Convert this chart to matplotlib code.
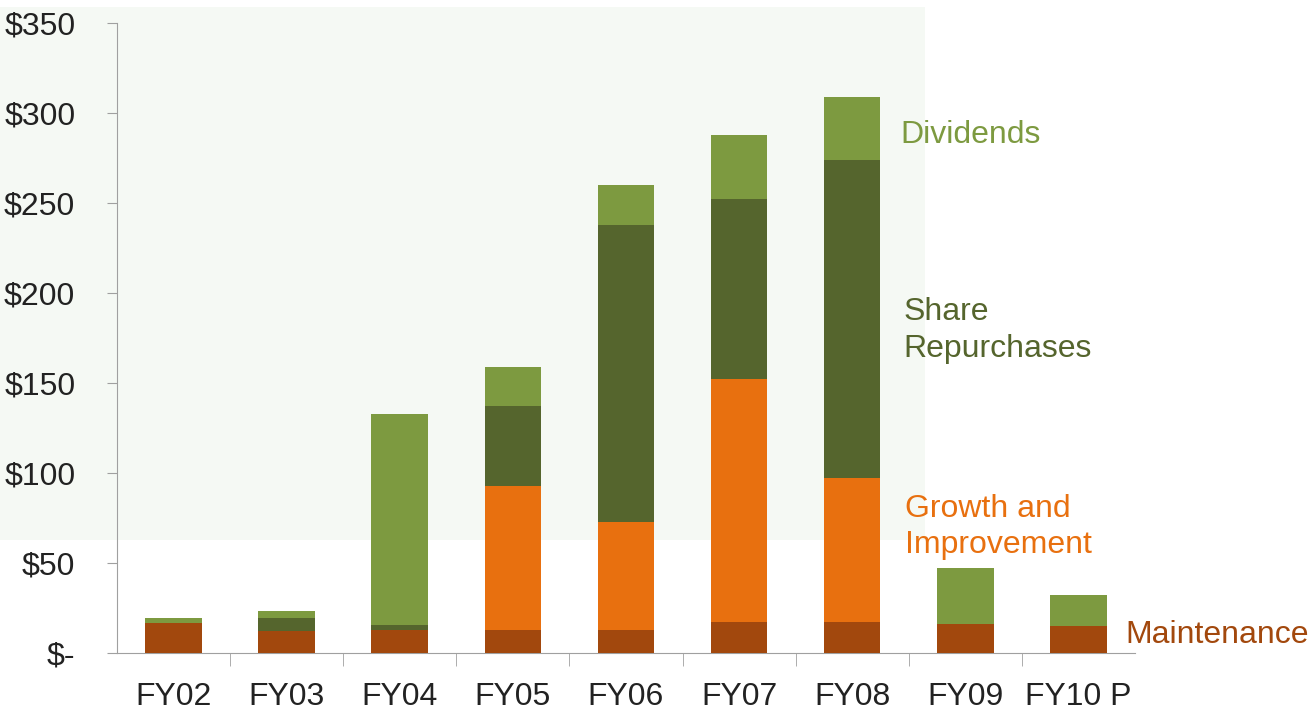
import matplotlib.pyplot as plt
import matplotlib.patches as mpatches
import numpy as np

plt.rcParams['font.family'] = ['Liberation Sans', 'DejaVu Sans']

# Дані (мільйони $)
years = ['FY02', 'FY03', 'FY04', 'FY05', 'FY06', 'FY07', 'FY08', 'FY09', 'FY10 P']
maintenance = [16.5, 12, 13, 13, 13, 17, 17, 16, 15]
growth = [0, 0, 0, 80, 60, 135, 80, 0, 0]
repurchases = [0, 7.5, 2.5, 44, 165, 100, 177, 0, 0]
dividends = [3, 4, 117, 22, 22, 36, 35, 31, 17]

yticks = [0, 50, 100, 150, 200, 250, 300, 350]
ytick_labels = ['$-', '$50', '$100', '$150', '$200', '$250', '$300', '$350']

c_maint = '#a2480d'
c_growth = '#e8700f'
c_rep = '#55652d'
c_div = '#7d9a40'
fs = 23

fig = plt.figure(figsize=(13.12, 7.17), dpi=100)
# легкий зеленуватий фон у верхній лівій частині
fig.patches.append(mpatches.Rectangle((0, 0.247), 0.705, 0.743, transform=fig.transFigure,
                                      facecolor='#f5f9f4', edgecolor='none', zorder=-1))
ax = fig.add_axes([0.0892, 0.0893, 0.7758, 0.8787])
ax.patch.set_alpha(0)

x = np.arange(len(years))
w = 0.5
bottom = np.zeros(len(years))
for vals, col in [(maintenance, c_maint), (growth, c_growth), (repurchases, c_rep), (dividends, c_div)]:
    ax.bar(x, vals, w, bottom=bottom, color=col, zorder=3)
    bottom += np.array(vals)

ax.set_xlim(-0.5, len(years) - 0.5)
ax.set_ylim(0, 350)
ax.set_yticks(yticks)
ax.set_yticklabels(ytick_labels, fontsize=fs, color='#222222')
ax.set_xticks(x)
ax.set_xticklabels(years, fontsize=fs, color='#222222')
ax.set_xticks(np.arange(0.5, len(years) - 0.5, 1), minor=True)
ax.tick_params(axis='x', which='major', length=0, pad=21)
ax.tick_params(axis='x', which='minor', length=9, color='#a0a0a0')
ax.tick_params(axis='y', length=7, color='#a0a0a0', pad=23)

for s in ['top', 'right']:
    ax.spines[s].set_visible(False)
for s in ['left', 'bottom']:
    ax.spines[s].set_color('#a0a0a0')

# Підписи серій
ax.text(6.43, 288, 'Dividends', fontsize=fs, color=c_div, va='center', clip_on=False)
ax.text(6.45, 179, 'Share\nRepurchases', fontsize=fs, color=c_rep, va='center',
        linespacing=1.3, clip_on=False)
ax.text(6.47, 70, 'Growth and\nImprovement', fontsize=fs, color=c_growth, va='center',
        linespacing=1.3, clip_on=False)
ax.text(8.42, 10, 'Maintenance', fontsize=fs, color=c_maint, va='center', clip_on=False)

plt.savefig('out.png', dpi=100)
